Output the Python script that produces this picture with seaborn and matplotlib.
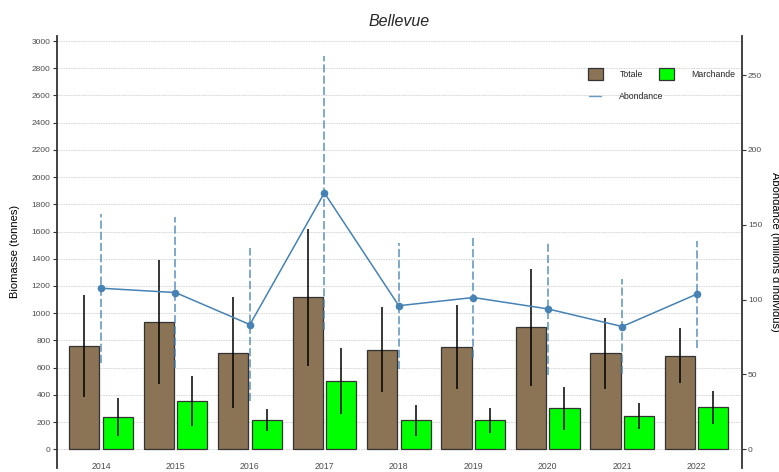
import numpy as np
import pandas as pd
import matplotlib
matplotlib.use("Agg")
import matplotlib.pyplot as plt
from matplotlib.patches import Patch
from matplotlib.lines import Line2D
import seaborn as sns

# Biomass (tonnes) and abundance (millions of individuals) per survey year
annees = ["2014", "2015", "2016", "2017", "2018", "2019", "2020", "2021", "2022"]
totale = [760, 935, 710, 1116, 730, 751, 896, 704, 687]
totale_err = [374, 457, 408, 504, 312, 310, 428, 263, 202]
marchande = [237, 357, 213, 502, 213, 213, 302, 245, 309]
marchande_err = [143, 185, 82, 244, 114, 94, 157, 98, 122]
abondance = [107.6, 104.7, 83.3, 171.3, 95.9, 101.4, 93.8, 82.0, 103.6]
abondance_err = [49.7, 50.5, 51.0, 91.3, 42.0, 40.1, 44.0, 31.7, 35.7]

types = ["Totale", "Marchande"]
couleurs = {"Totale": "#8B7355", "Marchande": "#00FF00"}
bleu = "#4682B4"
ratio = 11  # secondary axis = biomass / 11

df = pd.DataFrame({
    "annee": annees * 2,
    "biomasse": totale + marchande,
    "type": [types[0]] * len(annees) + [types[1]] * len(annees),
})

sns.set_style("white")
plt.rcParams["font.family"] = ["Liberation Sans", "DejaVu Sans"]

fig = plt.figure(figsize=(7.79, 4.72), dpi=100)
ax = fig.add_axes([0.0728, 0.0095, 0.8793, 0.9142])

sns.barplot(data=df, x="annee", y="biomasse", hue="type", order=annees,
            hue_order=types, palette=couleurs, saturation=1, width=0.9,
            gap=0.1, errorbar=None, edgecolor="#333333", linewidth=0.9,
            legend=False, ax=ax, zorder=2)

pos = np.arange(len(annees))
off = 0.225
ax.errorbar(pos - off, totale, yerr=totale_err, fmt="none", ecolor="black",
            elinewidth=1.1, capsize=0, zorder=3)
ax.errorbar(pos + off, marchande, yerr=marchande_err, fmt="none",
            ecolor="black", elinewidth=1.1, capsize=0, zorder=3)

ylo, yhi = -134, 3037
ax.set_ylim(ylo, yhi)
ax.set_xlim(-0.595, 8.605)
ax.set_yticks(np.arange(0, 3001, 200))
ax.yaxis.grid(True, linestyle=(0, (1, 1)), color="#c4c4c4", linewidth=0.6)
ax.xaxis.grid(False)
ax.set_axisbelow(True)

# Abundance on the secondary axis
ax2 = ax.twinx()
ab = np.array(abondance)
ab_err = np.array(abondance_err)
ax2.vlines(pos, ab - ab_err, ab + ab_err, colors=bleu, alpha=0.75,
           linestyles=(0, (4.5, 1.7)), linewidth=1.3, zorder=3)
sns.lineplot(x=pos, y=ab, ax=ax2, color=bleu, linewidth=1.1, marker="o",
             markersize=5.5, markeredgewidth=0, zorder=4)
ax2.set_ylim(ylo / ratio, yhi / ratio)
ax2.set_xlim(-0.595, 8.605)
ax2.set_yticks(np.arange(0, 251, 50))

for a in (ax, ax2):
    for s in ("top", "bottom"):
        a.spines[s].set_visible(False)
ax.spines["right"].set_visible(False)
ax2.spines["left"].set_visible(False)
ax.spines["left"].set_color("#333333")
ax.spines["left"].set_linewidth(1.3)
ax2.spines["right"].set_color("#333333")
ax2.spines["right"].set_linewidth(1.3)

ax.tick_params(axis="y", length=3, width=0.8, color="#333333", pad=1.5,
               labelsize=6, labelcolor="#4d4d4d")
ax.tick_params(axis="x", length=0, pad=-3.8, labelsize=6.3,
               labelcolor="#4d4d4d")
ax2.tick_params(axis="y", length=3, width=0.8, color="#333333", pad=1.5,
                labelsize=6, labelcolor="#4d4d4d")

ax.set_xlabel("")
ax.set_ylabel("Biomasse (tonnes)", fontsize=8, color="black", va="center")
ax.yaxis.set_label_coords(-0.061, 0.5)
ax2.set_ylabel("Abondance (millions d'individus)", fontsize=8, color="black",
               rotation=270, va="center", ha="center")
ax2.yaxis.set_label_coords(1.0486, 0.5)

ax.set_title("Bellevue", fontstyle="italic", fontsize=11.5, pad=7)

# Legends
h_bars = [Patch(facecolor=couleurs[t], edgecolor="#333333", linewidth=0.9)
          for t in types]
leg1 = ax2.legend(h_bars, types, ncol=2, loc="upper left",
                  bbox_to_anchor=(0.7756, 0.9258), frameon=False,
                  borderpad=0, borderaxespad=0, handlelength=1.71,
                  handleheight=1.71, handletextpad=1.94, columnspacing=1.83,
                  fontsize=6.3)
ax2.add_artist(leg1)
h_line = [Line2D([], [], color=bleu, alpha=0.8, linewidth=1.0)]
ax2.legend(h_line, ["Abondance"], loc="center left",
           bbox_to_anchor=(0.777, 0.859), frameon=False, borderpad=0,
           borderaxespad=0, handlelength=1.37, handletextpad=2.06,
           fontsize=6.3)

fig.savefig("out.png", dpi=100)
